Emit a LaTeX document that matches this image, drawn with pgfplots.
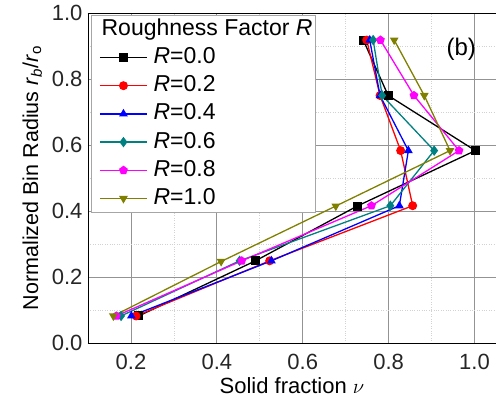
\documentclass[border=0pt]{standalone}
\usepackage{fontspec}
\setmainfont{Liberation Sans}
\usepackage{pgfplots}
\pgfplotsset{compat=1.18}
\definecolor{cteal}{RGB}{0,128,128}
\definecolor{colive}{RGB}{128,128,0}
\definecolor{cmag}{RGB}{255,0,255}
\begin{document}
\begin{tikzpicture}
\useasboundingbox (-88pt,-57pt) rectangle (408pt,343pt);
\begin{axis}[
  at={(0,0)}, anchor=south west,
  scale only axis, width=408pt, height=330pt,
  xmin=0.1, xmax=1.05, ymin=0, ymax=1.0,
  separate axis lines,
  axis x line*=box, axis y line*=left,
  axis line style={line width=0.9pt, black},
  xtick={0.2,0.4,0.6,0.8,1.0},
  ytick={0,0.2,0.4,0.6,0.8,1.0},
  minor tick num=1,
  major tick length=0pt, minor tick length=0pt,
  grid=both,
  major grid style={gray!85, line width=0.8pt},
  minor grid style={gray!35, dotted, line width=0.6pt},
  /pgf/number format/assume math mode=true,
  /pgf/number format/.cd, fixed, fixed zerofill, precision=1, /pgfplots/.cd,
  tick label style={font=\fontsize{22}{24}\selectfont, text=black!85},
  xticklabel style={yshift=-8pt},
  yticklabel style={xshift=-2pt},
  xlabel={Solid fraction $\nu$},
  ylabel={Normalized Bin Radius \textit{r}\textsubscript{\textit{b}}/\textit{r}\textsubscript{o}},
  xlabel style={font=\fontsize{22}{24}\selectfont, yshift=-1pt},
  ylabel style={font=\fontsize{21.5}{24}\selectfont, yshift=3pt},
  legend cell align=left,
  legend image code/.code={%
    \path (0pt,0pt);
    \draw[mark repeat=2, mark phase=2] plot coordinates {(5pt,0pt) (28.5pt,0pt) (52pt,0pt)};},
  legend style={at={(0.0074,0.994)}, anchor=north west,
    draw=gray!70, line width=0.6pt, fill=white,
    font=\fontsize{23}{24}\selectfont,
    inner xsep=3pt, inner ysep=2pt,
    nodes={inner xsep=0pt, inner ysep=1pt, text height=17pt, text depth=5pt},
    column sep=6pt, row sep=4.2pt},
  legend image post style={line width=1.3pt},
  every axis plot/.append style={line width=1.3pt, mark size=3.8pt},
]
\addlegendimage{empty legend}
\addlegendentry{\hspace{-52pt}Roughness Factor \textit{R}}
\addplot[black, mark=square*] coordinates {
(0.218,0.082) (0.490,0.249) (0.727,0.415) (1.002,0.583) (0.799,0.750) (0.741,0.918)};
\addlegendentry{\textit{R}=0.0}
\addplot[red, mark=*] coordinates {
(0.212,0.082) (0.523,0.249) (0.856,0.416) (0.828,0.583) (0.780,0.750) (0.749,0.918)};
\addlegendentry{\textit{R}=0.2}
\addplot[blue, mark=triangle*] coordinates {
(0.201,0.082) (0.527,0.249) (0.825,0.416) (0.846,0.583) (0.780,0.750) (0.756,0.918)};
\addlegendentry{\textit{R}=0.4}
\addplot[cteal, mark=diamond*, mark size=4.2pt] coordinates {
(0.177,0.082) (0.453,0.249) (0.804,0.416) (0.906,0.583) (0.785,0.750) (0.764,0.918)};
\addlegendentry{\textit{R}=0.6}
\addplot[cmag, mark=pentagon*] coordinates {
(0.166,0.082) (0.458,0.249) (0.760,0.416) (0.964,0.583) (0.859,0.750) (0.781,0.918)};
\addlegendentry{\textit{R}=0.8}
\addplot[colive, mark=triangle*, mark options={rotate=180}] coordinates {
(0.159,0.082) (0.410,0.247) (0.677,0.415) (0.943,0.583) (0.883,0.750) (0.813,0.918)};
\addlegendentry{\textit{R}=1.0}
\node[font=\fontsize{24}{26}\selectfont] at (axis cs:0.969,0.891) {(b)};
\end{axis}
\end{tikzpicture}
\end{document}
